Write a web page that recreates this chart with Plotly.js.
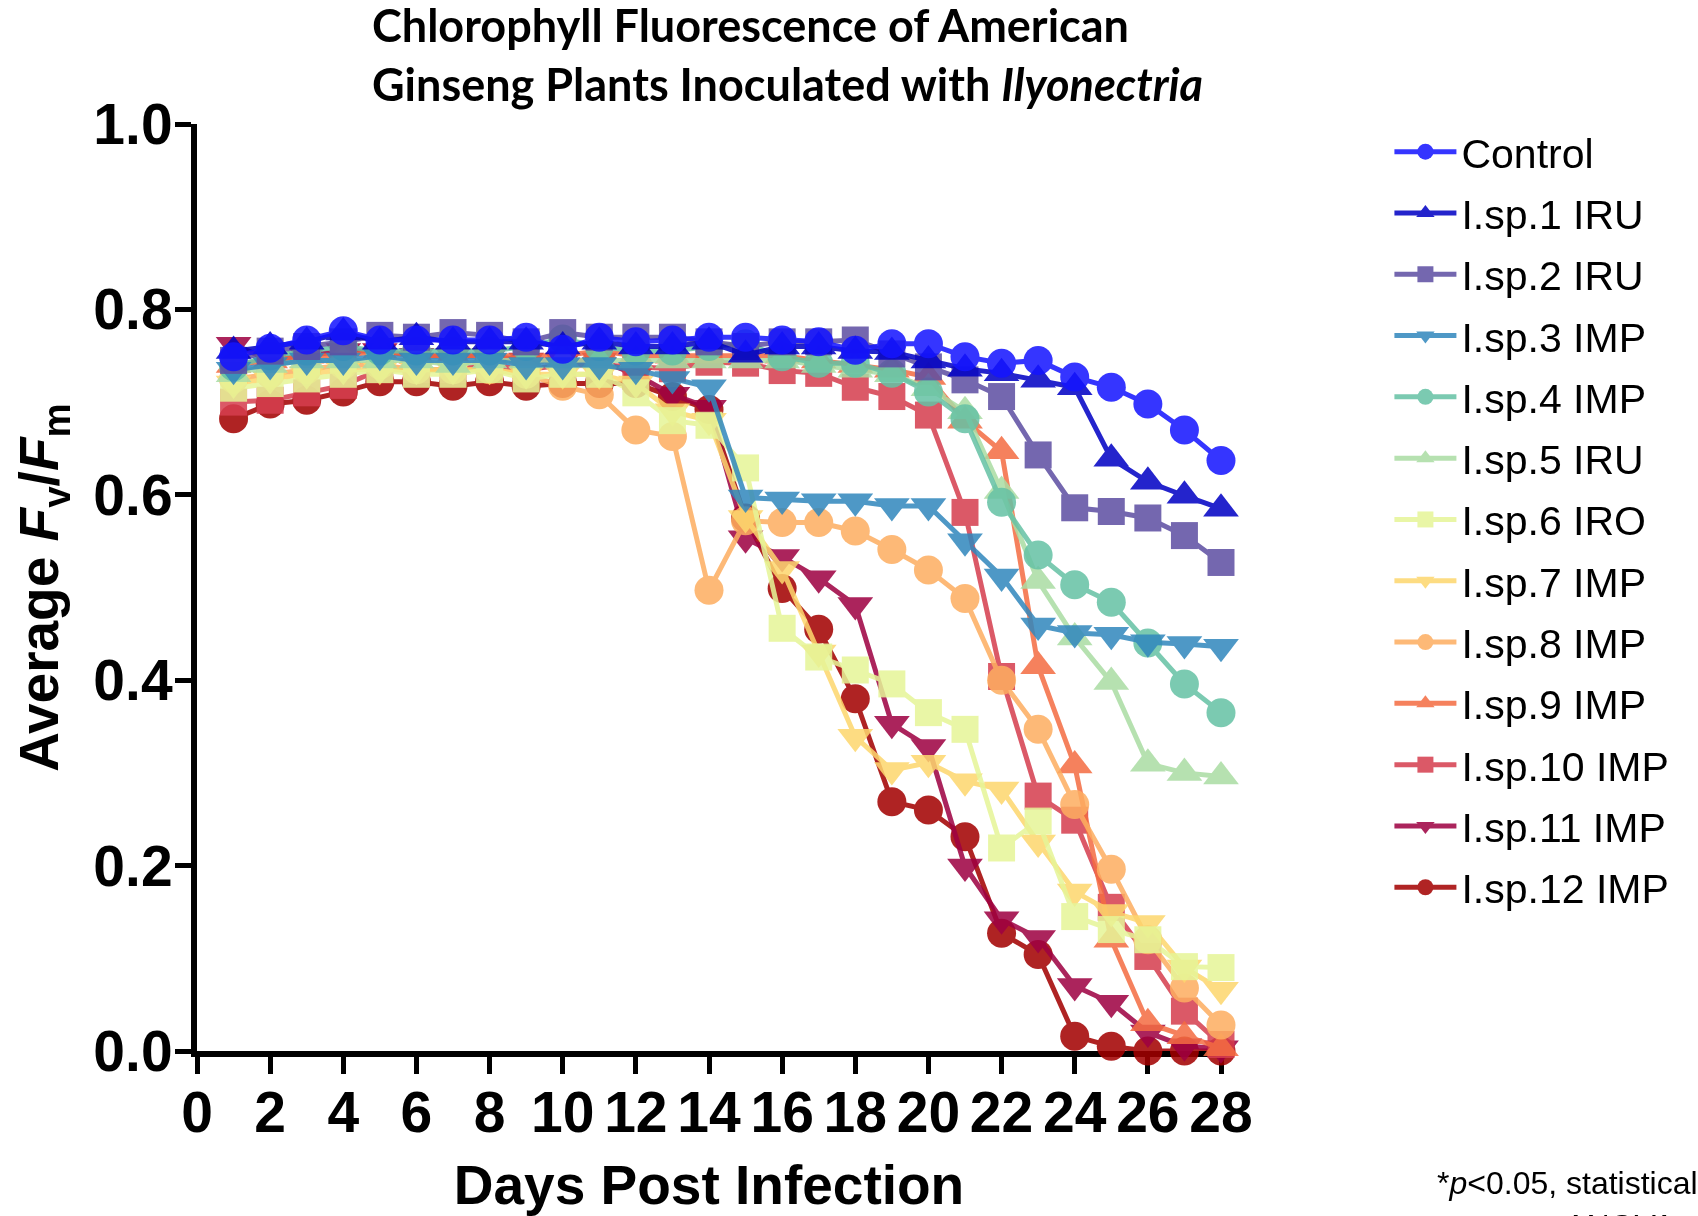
<!DOCTYPE html>
<html>
<head>
<meta charset="utf-8">
<script src="https://cdn.plot.ly/plotly-3.0.1.min.js"></script>
<style>
html,body{margin:0;padding:0;background:#fff;}
#chart{width:1698px;height:1216px;}
</style>
</head>
<body>
<div id="chart"></div>
<script>
const days = [1,2,3,4,5,6,7,8,9,10,11,12,13,14,15,16,17,18,19,20,21,22,23,24,25,26,27,28];

const seriesNames = ["Control","I.sp.1 IRU","I.sp.2 IRU","I.sp.3 IMP","I.sp.4 IMP","I.sp.5 IRU","I.sp.6 IRO","I.sp.7 IMP","I.sp.8 IMP","I.sp.9 IMP","I.sp.10 IMP","I.sp.11 IMP","I.sp.12 IMP"];

const control = [0.749,0.758,0.767,0.777,0.767,0.767,0.767,0.767,0.770,0.757,0.770,0.765,0.767,0.770,0.770,0.767,0.765,0.756,0.763,0.763,0.749,0.742,0.745,0.727,0.716,0.698,0.670,0.637];
const isp1 = [0.755,0.760,0.765,0.775,0.765,0.770,0.765,0.765,0.765,0.760,0.765,0.760,0.760,0.765,0.751,0.760,0.760,0.755,0.754,0.745,0.736,0.731,0.724,0.716,0.639,0.614,0.599,0.585];
const isp2 = [0.745,0.755,0.760,0.765,0.772,0.770,0.775,0.772,0.765,0.775,0.770,0.770,0.770,0.765,0.760,0.765,0.765,0.767,0.752,0.738,0.724,0.706,0.643,0.586,0.582,0.575,0.556,0.527];
const isp3 = [0.735,0.740,0.745,0.745,0.750,0.745,0.745,0.745,0.740,0.740,0.740,0.735,0.725,0.716,0.597,0.595,0.593,0.593,0.588,0.588,0.550,0.512,0.459,0.451,0.449,0.441,0.439,0.436];
const isp4 = [0.738,0.750,0.755,0.760,0.755,0.755,0.755,0.755,0.760,0.768,0.760,0.755,0.755,0.760,0.763,0.749,0.742,0.742,0.731,0.711,0.682,0.592,0.535,0.503,0.484,0.440,0.396,0.365];
const isp5 = [0.730,0.740,0.745,0.745,0.745,0.745,0.740,0.745,0.745,0.745,0.745,0.745,0.745,0.745,0.745,0.745,0.740,0.735,0.730,0.715,0.690,0.604,0.507,0.446,0.398,0.310,0.300,0.296];
const isp6 = [0.715,0.720,0.725,0.730,0.735,0.730,0.730,0.735,0.725,0.730,0.730,0.710,0.680,0.675,0.629,0.456,0.425,0.411,0.396,0.365,0.347,0.219,0.248,0.145,0.131,0.120,0.091,0.090];
const isp7 = [0.720,0.725,0.730,0.735,0.735,0.735,0.735,0.735,0.730,0.730,0.730,0.720,0.690,0.680,0.575,0.520,0.430,0.339,0.303,0.311,0.291,0.282,0.225,0.172,0.150,0.138,0.090,0.066];
const isp8 = [0.725,0.730,0.735,0.740,0.740,0.735,0.735,0.735,0.730,0.717,0.708,0.670,0.663,0.497,0.572,0.570,0.570,0.561,0.541,0.519,0.488,0.400,0.347,0.266,0.196,0.120,0.068,0.028];
const isp9 = [0.740,0.745,0.750,0.750,0.755,0.750,0.750,0.750,0.750,0.750,0.755,0.750,0.750,0.750,0.750,0.750,0.745,0.740,0.735,0.727,0.680,0.647,0.415,0.308,0.120,0.030,0.016,0.003];
const isp10 = [0.700,0.702,0.710,0.718,0.735,0.735,0.735,0.740,0.735,0.740,0.740,0.738,0.736,0.743,0.742,0.734,0.731,0.716,0.706,0.686,0.581,0.404,0.275,0.249,0.155,0.102,0.043,0.007];
const isp11 = [0.762,0.745,0.750,0.755,0.755,0.750,0.750,0.750,0.745,0.745,0.745,0.730,0.708,0.694,0.553,0.533,0.510,0.481,0.353,0.328,0.199,0.142,0.122,0.070,0.052,0.020,0.005,0.003];
const isp12 = [0.682,0.698,0.702,0.711,0.722,0.722,0.717,0.722,0.717,0.720,0.720,0.720,0.706,0.692,0.575,0.499,0.455,0.380,0.269,0.260,0.231,0.127,0.104,0.016,0.005,0.000,0.000,0.000];

const seriesValues = [control,isp1,isp2,isp3,isp4,isp5,isp6,isp7,isp8,isp9,isp10,isp11,isp12];
const seriesColors = ["#1414ff","#0000c4","#5e4fa2","#3288bd","#66c2a5","#abdda4","#e6f598","#fdd76e","#fdae61","#f46d43","#d53e4f","#9e0142","#a30000"];
const seriesSymbols = ["circle","triangle-up","square","triangle-down","circle","triangle-up","square","triangle-down","circle","triangle-up","square","triangle-down","circle"];

const xTickVals = [0,2,4,6,8,10,12,14,16,18,20,22,24,26,28];
const yTickVals = [0,0.2,0.4,0.6,0.8,1.0];

function markerSize(sym) {
  if (sym.startsWith('triangle')) return 31;
  if (sym === 'square') return 27;
  return 29;
}

const traces = seriesNames.map((name, i) => ({
  type: 'scatter',
  mode: 'lines+markers',
  x: days,
  y: seriesValues[i],
  name: name,
  legendgroup: 'g' + i,
  legendrank: i + 1,
  opacity: 0.86,
  cliponaxis: false,
  line: {color: seriesColors[i], width: 5},
  marker: {color: seriesColors[i], symbol: seriesSymbols[i], size: markerSize(seriesSymbols[i]), line: {width: 0}}
})).reverse();

const tickFont = {family: 'Liberation Sans, Arial, sans-serif', size: 57, color: '#000', weight: 'bold'};
const axisTitleFont = {family: 'Liberation Sans, Arial, sans-serif', size: 55, color: '#000', weight: 'bold'};

const layout = {
  width: 1698,
  height: 1216,
  paper_bgcolor: '#fff',
  plot_bgcolor: '#fff',
  margin: {l: 197, r: 476.5, t: 123.5, b: 164.5, pad: 0},
  showlegend: true,
  title: {
    text: 'Chlorophyll Fluorescence of American<br>Ginseng Plants Inoculated with <i>Ilyonectria</i>',
    font: {family: 'Lato, Open Sans, sans-serif', size: 45, color: '#000', weight: 'bold'},
    x: 372 / 1698,
    xanchor: 'left',
    xref: 'container',
    y: 1 - 42 / 1216,
    yanchor: 'top',
    yref: 'container'
  },
  xaxis: {
    range: [0, 28],
    tickvals: xTickVals,
    ticktext: xTickVals.map(String),
    showgrid: false,
    zeroline: false,
    showline: true,
    linecolor: '#000',
    linewidth: 6,
    ticks: 'outside',
    ticklen: 17,
    tickwidth: 5,
    tickcolor: '#000',
    tickfont: tickFont,
    ticklabelstandoff: -10,
    layer: 'below traces',
    title: {text: 'Days Post Infection', font: axisTitleFont, standoff: 32}
  },
  yaxis: {
    range: [0, 1],
    tickvals: yTickVals,
    ticktext: yTickVals.map(v => v.toFixed(1)),
    showgrid: false,
    zeroline: false,
    showline: true,
    linecolor: '#000',
    linewidth: 6,
    ticks: 'outside',
    ticklen: 16,
    tickwidth: 5,
    tickcolor: '#000',
    tickfont: tickFont,
    ticklabelstandoff: -9,
    layer: 'below traces',
    title: {text: 'Average <i>F</i><sub>v</sub>/<i>F</i><sub>m</sub>', font: axisTitleFont, standoff: 19}
  },
  legend: {
    x: (1390 - 197) / 1024.5,
    xanchor: 'left',
    y: (1051.5 - 118) / 928,
    yanchor: 'top',
    maxheight: 1150,
    font: {family: 'Liberation Sans, Arial, sans-serif', size: 41, color: '#000'},
    tracegroupgap: 5,
    itemwidth: 62,
    bgcolor: 'rgba(0,0,0,0)'
  },
  annotations: [
    {text: '*<i>p</i><0.05, statistical', xref: 'paper', yref: 'paper', x: (1436 - 197) / 1024.5, y: (1051.5 - 1184) / 928, xanchor: 'left', yanchor: 'middle', showarrow: false, font: {family: 'Liberation Sans, Arial, sans-serif', size: 32, color: '#000'}},
    {text: 'one-way ANOVA', xref: 'paper', yref: 'paper', x: (1436 - 197) / 1024.5, y: (1051.5 - 1227) / 928, xanchor: 'left', yanchor: 'middle', showarrow: false, font: {family: 'Liberation Sans, Arial, sans-serif', size: 32, color: '#000'}}
  ]
};

Plotly.newPlot('chart', traces, layout, {displayModeBar: false, staticPlot: true});
</script>
</body>
</html>
